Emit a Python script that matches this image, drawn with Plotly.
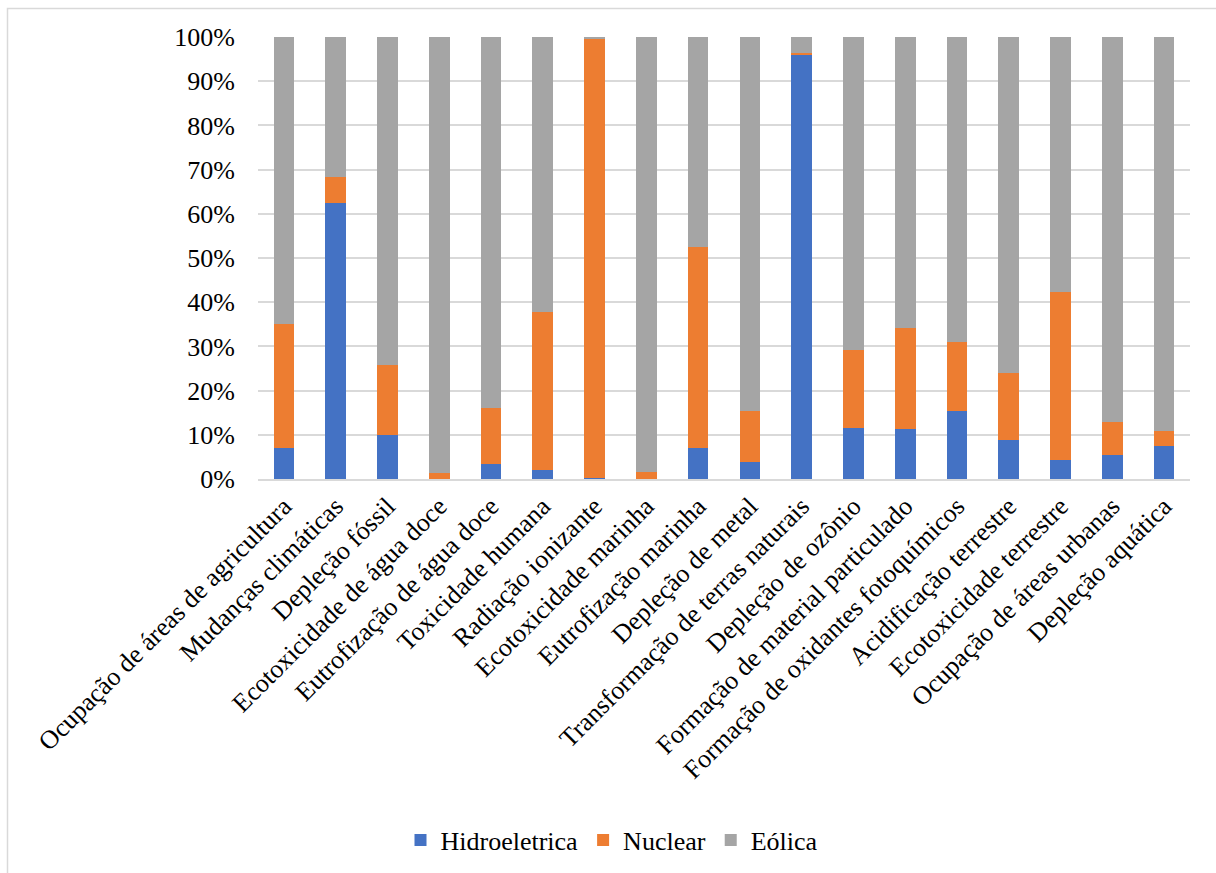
import plotly.graph_objects as go

categories = [
    "Ocupação de áreas de agricultura", "Mudanças climáticas", "Depleção fóssil",
    "Ecotoxicidade de água doce", "Eutrofização de água doce", "Toxicidade humana",
    "Radiação ionizante", "Ecotoxicidade marinha", "Eutrofização marinha",
    "Depleção de metal", "Transformação de terras naturais", "Depleção de ozônio",
    "Formação de material particulado", "Formação de oxidantes fotoquímicos",
    "Acidificação terrestre", "Ecotoxicidade terrestre", "Ocupação de áreas urbanas",
    "Depleção aquática",
]
hidroeletrica = [7.0, 62.5, 9.9, 0.1, 3.4, 2.0, 0.2, 0.1, 7.0, 3.8, 96.0, 11.5, 11.3, 15.3, 8.8, 4.3, 5.4, 7.4]
nuclear = [28.0, 5.9, 15.8, 1.3, 12.6, 35.7, 99.3, 1.5, 45.6, 11.5, 0.4, 17.6, 22.8, 15.6, 15.1, 38.1, 7.5, 3.4]
eolica = [65.0, 31.6, 74.3, 98.6, 84.0, 62.3, 0.5, 98.4, 47.4, 84.7, 3.6, 70.9, 65.9, 69.1, 76.1, 57.6, 87.1, 89.2]
y_ticks = [0, 10, 20, 30, 40, 50, 60, 70, 80, 90, 100]
y_tick_text = ["0%", "10%", "20%", "30%", "40%", "50%", "60%", "70%", "80%", "90%", "100%"]

font_family = "Times New Roman"
fs = 26

fig = go.Figure()
for name, vals, color in [("Hidroeletrica", hidroeletrica, "#4472C4"),
                          ("Nuclear", nuclear, "#ED7D31"),
                          ("Eólica", eolica, "#A5A5A5")]:
    fig.add_trace(go.Bar(x=categories, y=vals, name=name, marker_color=color,
                         marker_line_width=0))

W, H = 1216, 873
L, R, T, B = 258, 26, 37, 393
pw, ph = W - L - R, H - T - B

fig.update_layout(
    width=W, height=H, barmode="stack", bargap=0.6,
    margin=dict(l=L, r=R, t=T, b=B),
    plot_bgcolor="white", paper_bgcolor="white",
    font=dict(family=font_family, size=fs, color="#000000"),
    legend=dict(orientation="h", x=(612 - L) / pw, xanchor="center",
                y=(480 - 840) / ph, yanchor="middle", itemwidth=30,
                font=dict(family=font_family, size=fs), traceorder="normal"),
    showlegend=True,
)
fig.update_xaxes(tickangle=-45, showgrid=False, showline=True, linecolor="#d9d9d9",
                 linewidth=1.5, ticks="", tickfont=dict(family=font_family, size=fs))
fig.update_yaxes(range=[0, 100], tickmode="array", tickvals=y_ticks, ticktext=y_tick_text,
                 showgrid=True, gridcolor="#d9d9d9", gridwidth=1.5, zeroline=False,
                 showline=False, tickfont=dict(family=font_family, size=fs),
                 ticklabelstandoff=22)

fig.add_shape(type="rect", xref="paper", yref="paper",
              x0=(7.5 - L) / pw, x1=(1240 - L) / pw,
              y0=(480 - 900) / ph, y1=(480 - 8.5) / ph,
              line=dict(color="#d9d9d9", width=1.5), fillcolor="rgba(0,0,0,0)", layer="below")

fig.write_html("out.html")
